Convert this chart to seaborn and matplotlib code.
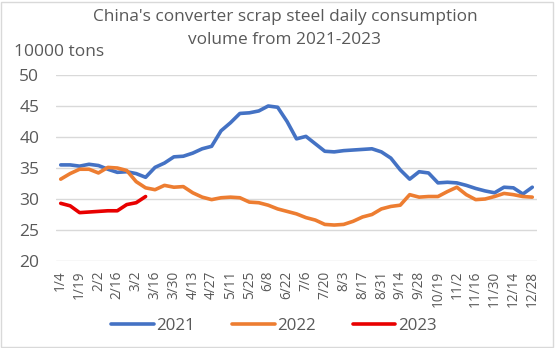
import matplotlib
matplotlib.use("Agg")
import matplotlib.pyplot as plt
import seaborn as sns
import pandas as pd
import numpy as np
from matplotlib.lines import Line2D

dates = ["1/4", "1/11", "1/19", "1/26", "2/2", "2/9", "2/16", "2/23", "3/2", "3/9",
         "3/16", "3/23", "3/30", "4/6", "4/13", "4/20", "4/27", "5/4", "5/11", "5/18",
         "5/25", "6/1", "6/8", "6/15", "6/22", "6/29", "7/6", "7/13", "7/20", "7/27",
         "8/3", "8/10", "8/17", "8/24", "8/31", "9/7", "9/14", "9/21", "9/28", "10/12",
         "10/19", "10/26", "11/2", "11/9", "11/16", "11/23", "11/30", "12/7", "12/14", "12/21",
         "12/28"]

y2021 = [35.5, 35.5, 35.3, 35.6, 35.4, 34.8, 34.3, 34.4, 34.1, 33.5,
         35.1, 35.8, 36.8, 36.9, 37.4, 38.1, 38.5, 41.0, 42.3, 43.8,
         43.9, 44.2, 45.0, 44.8, 42.5, 39.7, 40.1, 38.9, 37.7, 37.6,
         37.8, 37.9, 38.0, 38.1, 37.6, 36.6, 34.7, 33.2, 34.4, 34.2,
         32.6, 32.7, 32.6, 32.2, 31.7, 31.3, 31.0, 31.9, 31.8, 30.8,
         31.9]
y2022 = [33.2, 34.1, 34.8, 34.8, 34.2, 35.1, 35.0, 34.6, 32.8, 31.8,
         31.5, 32.2, 31.9, 32.0, 31.0, 30.3, 29.9, 30.2, 30.3, 30.2,
         29.5, 29.4, 29.0, 28.4, 28.0, 27.6, 27.0, 26.6, 25.9, 25.8,
         25.9, 26.4, 27.1, 27.5, 28.4, 28.8, 29.0, 30.7, 30.3, 30.4,
         30.4, 31.2, 31.9, 30.7, 29.9, 30.0, 30.4, 30.9, 30.7, 30.4,
         30.3]
y2023 = [29.3, 28.9, 27.8, 27.9, 28.0, 28.1, 28.1, 29.1, 29.4, 30.4]

series = {"2021": y2021, "2022": y2022, "2023": y2023}
colors = {"2021": "#4472C4", "2022": "#ED7D31", "2023": "#E80000"}

rows = []
for name, vals in series.items():
    for i, v in enumerate(vals):
        rows.append({"idx": i, "date": dates[i], "value": v, "year": name})
df = pd.DataFrame(rows)

sns.set_style("white")
plt.rcParams["font.family"] = ["Open Sans", "DejaVu Sans"]
grey = "#595959"

fig = plt.figure(figsize=(5.55, 3.48), dpi=100)
ax = fig.add_axes([56/555, 1 - 261/348, (537-56)/555, (261-75)/348])

sns.lineplot(data=df, x="idx", y="value", hue="year", palette=colors,
             linewidth=2.6, ax=ax, legend=False)

ax.set_xlim(-0.5, len(dates) - 0.5)
ax.set_ylim(20, 50)
ax.set_yticks(np.arange(20, 51, 5))
ax.grid(axis="y", color="#D9D9D9", linewidth=1.0)
ax.grid(axis="x", visible=False)
for s in ax.spines.values():
    s.set_visible(False)
ax.set_axisbelow(True)

tick_pos = list(range(0, len(dates), 2))
ax.set_xticks(tick_pos)
ax.set_xticklabels([dates[i] for i in tick_pos], rotation=90, fontsize=9.8, color=grey)
ax.tick_params(axis="x", length=0, pad=7)
ax.tick_params(axis="y", length=0, pad=12, labelsize=12.5, labelcolor=grey)
ax.set_xlabel("")
ax.set_ylabel("")

fig.text(285/555, 1 - 17/348, "China's converter scrap steel daily consumption",
         ha="center", va="center", fontsize=12.4, color=grey)
fig.text(285/555, 1 - 40/348, "volume from 2021-2023",
         ha="center", va="center", fontsize=12.4, color=grey)
fig.text(14/555, 1 - 52/348, "10000 tons", ha="left", va="center", fontsize=12.5, color=grey)

handles = [Line2D([0], [0], color=colors[k], linewidth=2.6) for k in series]
leg = fig.legend(handles, list(series.keys()), loc="center", ncol=3,
                 bbox_to_anchor=(274/555, 1 - 326/348), frameon=False,
                 fontsize=12.2, handlelength=2.5, columnspacing=2.2, handletextpad=0.15)
for t in leg.get_texts():
    t.set_color(grey)

border = plt.Rectangle((0.002, 0.003), 0.994, 0.992, transform=fig.transFigure,
                       fill=False, edgecolor="#D9D9D9", linewidth=1.0)
fig.patches.append(border)

fig.savefig("out.png", dpi=100)
